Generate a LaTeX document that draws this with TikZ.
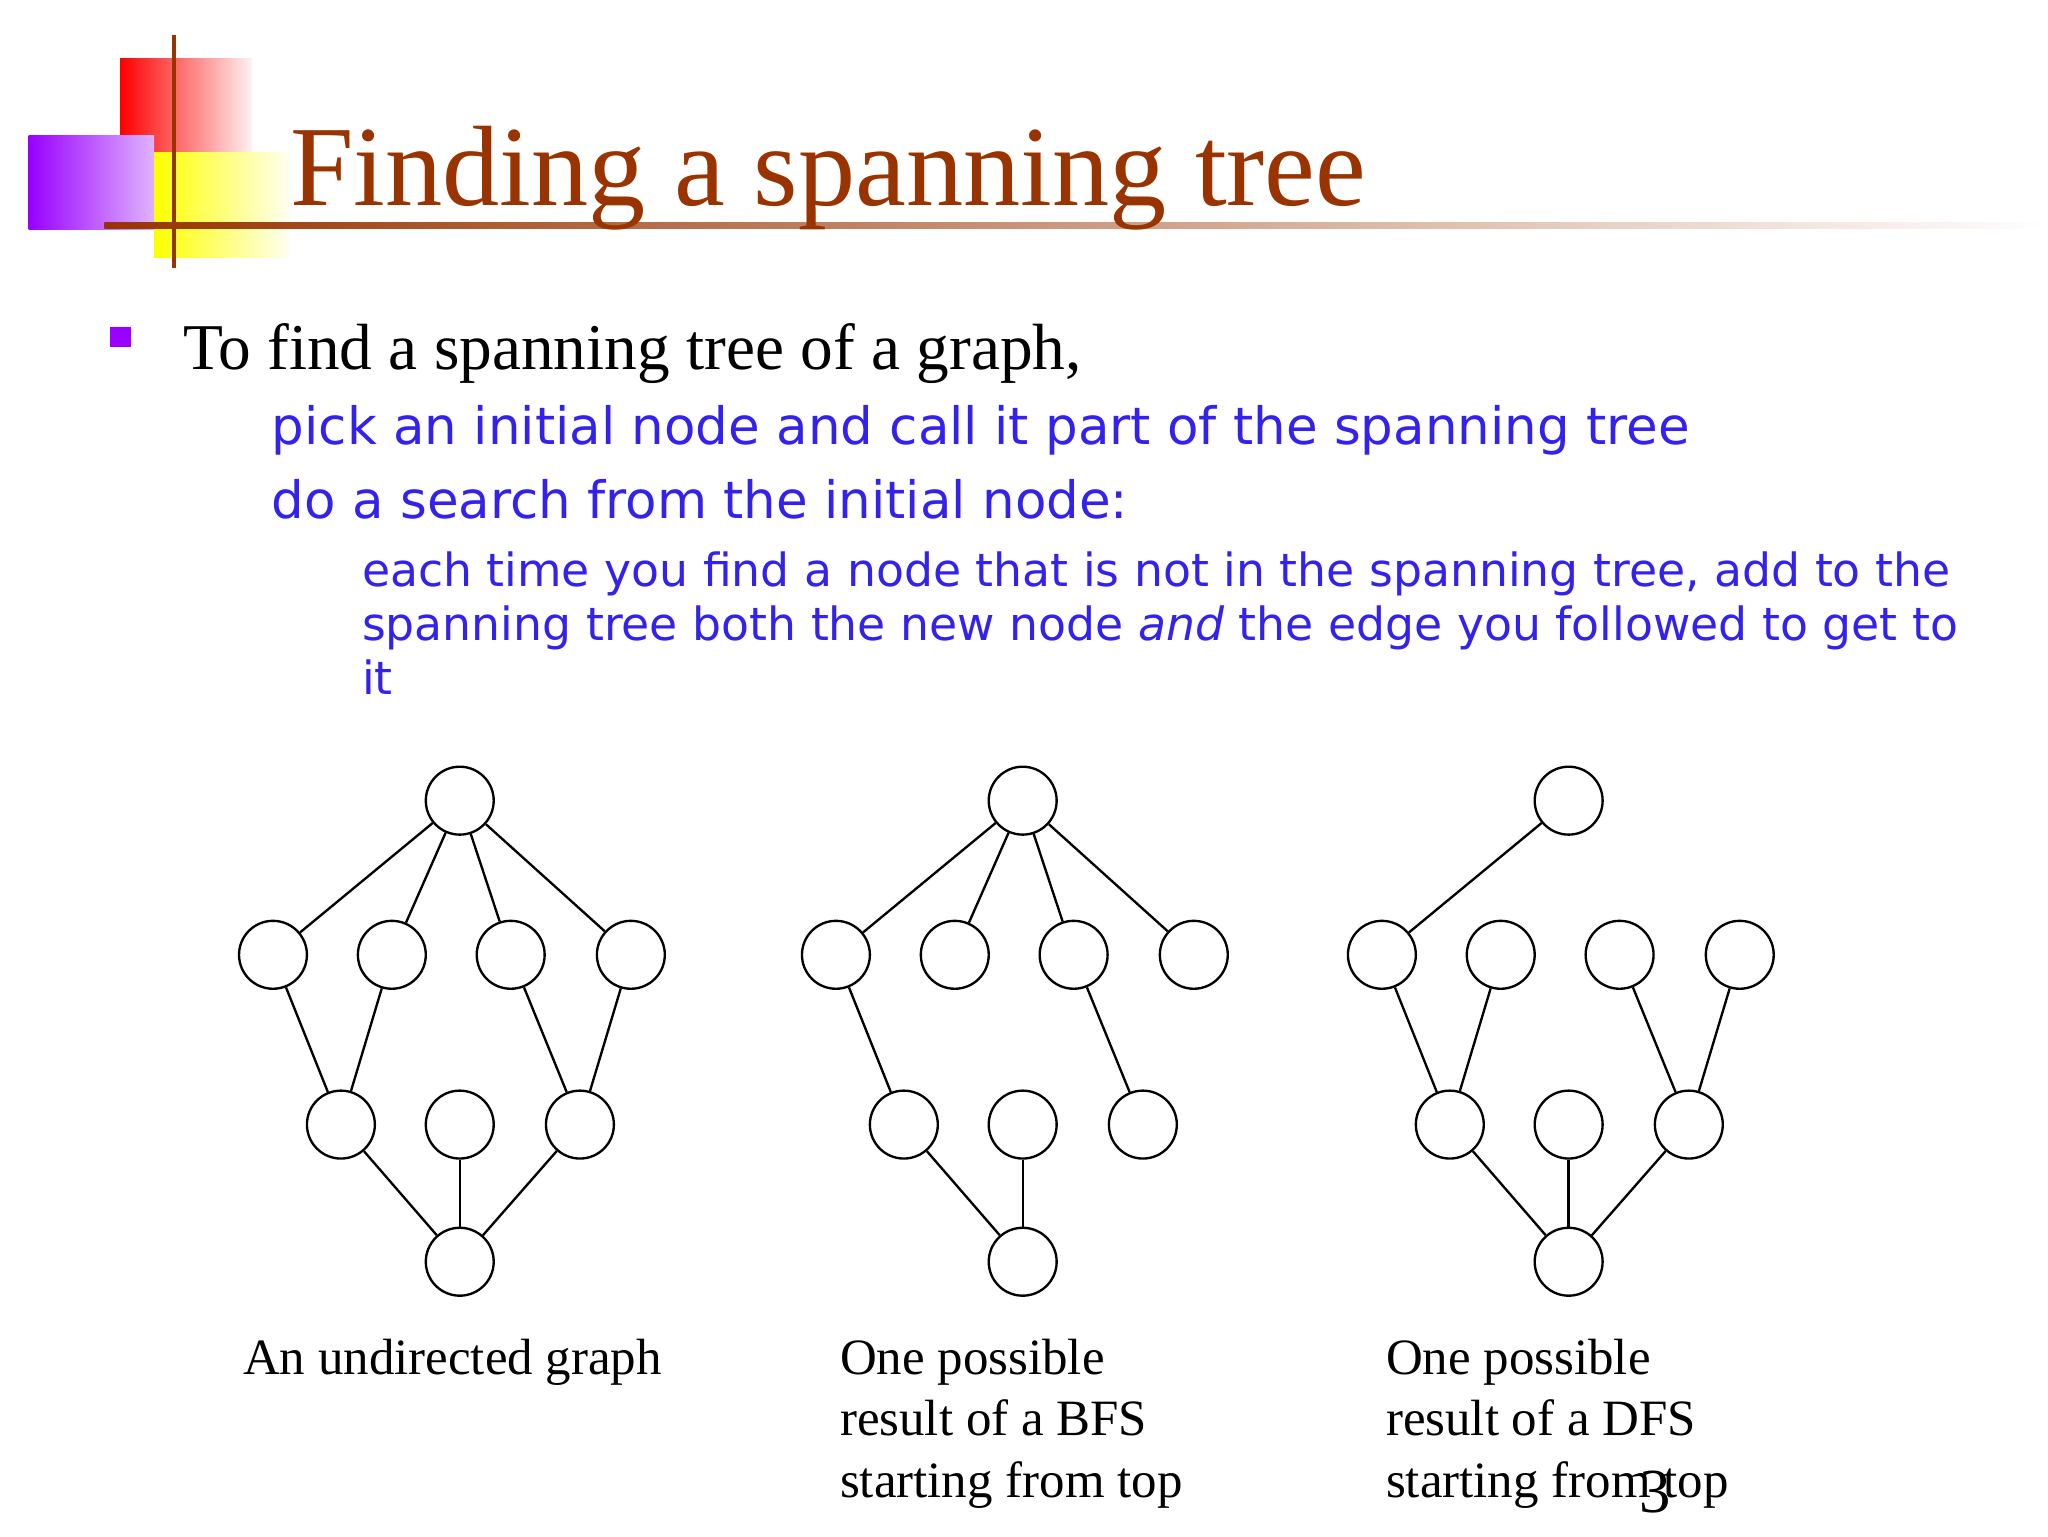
\documentclass[tikz,border=0pt]{standalone}
\usepackage{fontspec}
\setmainfont{Liberation Serif}
\newfontfamily\vfont{DejaVu Sans}
\definecolor{titlebrown}{HTML}{993300}
\definecolor{tblue}{HTML}{3322EE}
\definecolor{bpurple}{HTML}{9900FF}
\begin{document}
\begin{tikzpicture}[x=1pt,y=-1pt,
  vtx/.style={circle,draw,line width=1.8pt,minimum size=52pt,inner sep=0pt},
  edge/.style={line width=1.8pt},
  captxt/.style={anchor=north west,align=left,font=\fontsize{39}{47}\selectfont,inner sep=0pt}]
\useasboundingbox (0,0) rectangle (1568,1176);
\fill[white] (0,0) rectangle (1568,1176);
% decoration
\shade[left color=red,right color=red!5] (92,45) rectangle (193,117);
\shade[left color=yellow,right color=yellow!5] (118,117) rectangle (222,197);
\shade[left color=bpurple,right color=bpurple!30] (22,104) rectangle (118,176);
\draw[titlebrown,line width=3pt] (133,27) -- (133,205);
\shade[left color=titlebrown,right color=white] (80,170) rectangle (1568,175);
\node[anchor=base west,text=titlebrown,font=\fontsize{87.5}{100}\selectfont,inner sep=0pt] (title) at (222,157) {Finding a spanning tree};
% bullets
\fill[bpurple] (84,250) rectangle (100,266);
\node[anchor=base west,font=\fontsize{50}{60}\selectfont,inner sep=0pt] (l1) at (140,283) {To find a spanning tree of a graph,};
\node[anchor=base west,text=tblue,font=\vfont\fontsize{39.4}{45}\selectfont,inner sep=0pt] (l2) at (208,340) {pick an initial node and call it part of the spanning tree};
\node[anchor=base west,text=tblue,font=\vfont\fontsize{39.4}{45}\selectfont,inner sep=0pt] (l3) at (208,397) {do a search from the initial node:};
\node[anchor=north west,text=tblue,align=left,font=\vfont\fontsize{35}{41.5}\selectfont,inner sep=0pt] (l4) at (277,422) {each time you find a node that is not in the spanning tree, add to the\\spanning tree both the new node \textit{and} the edge you followed to get to\\it};
% graphs
\foreach \g/\dx in {a/0,b/431,c/849}{
  \node[vtx] (\g t) at (352+\dx,613) {};
  \node[vtx] (\g 1) at (209+\dx,731) {};
  \node[vtx] (\g 2) at (300+\dx,731) {};
  \node[vtx] (\g 3) at (391+\dx,731) {};
  \node[vtx] (\g 4) at (483+\dx,731) {};
  \node[vtx] (\g 5) at (261+\dx,861) {};
  \node[vtx] (\g 6) at (352+\dx,861) {};
  \node[vtx] (\g 7) at (444+\dx,861) {};
  \node[vtx] (\g b) at (352+\dx,966) {};
}
\foreach \u/\v in {at/a1,at/a2,at/a3,at/a4,a1/a5,a2/a5,a3/a7,a4/a7,a5/ab,a6/ab,a7/ab,
  bt/b1,bt/b2,bt/b3,bt/b4,b1/b5,b3/b7,b5/bb,b6/bb,
  ct/c1,c1/c5,c2/c5,c5/cb,c6/cb,c7/cb,c3/c7,c4/c7}
  \draw[edge] (\u) -- (\v);
\node[captxt] (c1t) at (186,1025) {An undirected graph};
\node[captxt] (c2t) at (643,1025) {One possible\\result of a BFS\\starting from top};
\node[captxt] (c3t) at (1061,1025) {One possible\\result of a DFS\\starting from top};
\node[anchor=base west,font=\fontsize{48}{50}\selectfont,inner sep=0pt] (pg) at (1255,1158) {3};
\end{tikzpicture}
\end{document}
